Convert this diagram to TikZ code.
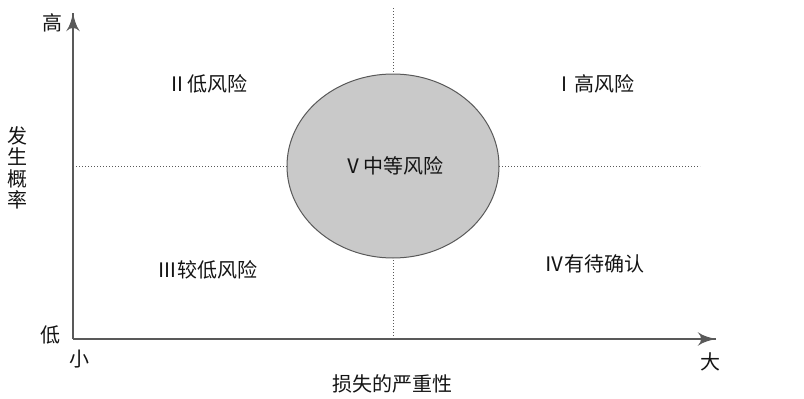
\documentclass[tikz,border=0pt]{standalone}
\usepackage{fontspec}
\setmainfont{Noto Sans CJK SC}
\usepackage{tikz}
\usetikzlibrary{arrows}
\usetikzlibrary{decorations.markings}
\usetikzlibrary{positioning}
\usetikzlibrary{shapes.geometric}
\tikzset{axis/.style = {draw=mgray, line width=1.1pt,
                        decoration={markings,
                                    mark=at position 1 with {\arrow[scale=3]{latex'}}},
                        postaction={decorate}}}
\tikzset{divide/.style = {draw=mgray, line width=1pt, dash pattern=on 1.4pt off 1.6pt}}
\tikzset{txt/.style = {text=mtext, inner sep=0pt, font=\fontsize{20}{21.5}\selectfont}}
\definecolor{mgray}{gray}{0.35}
\definecolor{mtext}{gray}{0.08}
\definecolor{mfill}{gray}{0.79}

\begin{document}
\begin{tikzpicture}[x=1pt, y=-1pt]
    \useasboundingbox (0, 0) rectangle (804, 399);

    \coordinate (O) at (73, 339);
    \coordinate (ytop) at (73, 13);
    \coordinate (xend) at (716, 339);
    \coordinate (vtop) at (393, 8);
    \coordinate (vbot) at (393, 339);
    \coordinate (hleft) at (73, 166);
    \coordinate (hright) at (700, 166);

    \draw [divide] (vtop) -- (vbot);
    \draw [divide] (hleft) -- (hright);

    \node [txt, ellipse, draw=mgray, line width=1pt, fill=mfill,
           minimum width=212, minimum height=184] (q5) at (393, 166) {Ⅴ中等风险};

    \draw [axis] (O) -- (ytop);
    \draw [axis] (O) -- (xend);

    \node [txt] (high) at (52, 23) {高};
    \node [txt] (low) at (50, 335) {低};
    \node [txt] (small) at (79, 359) {小};
    \node [txt] (large) at (710, 362) {大};
    \node [txt, align=center] (ylabel) at (18, 168) {发\\生\\概\\率};
    \node [txt] (xlabel) at (392, 384) {损失的严重性};

    \node [txt] (q2) at (207, 84) {Ⅱ低风险};
    \node [txt] (q1) at (594, 84) {Ⅰ高风险};
    \node [txt] (q3) at (207, 270) {Ⅲ较低风险};
    \node [txt] (q4) at (594, 264) {Ⅳ有待确认};
\end{tikzpicture}
\end{document}
